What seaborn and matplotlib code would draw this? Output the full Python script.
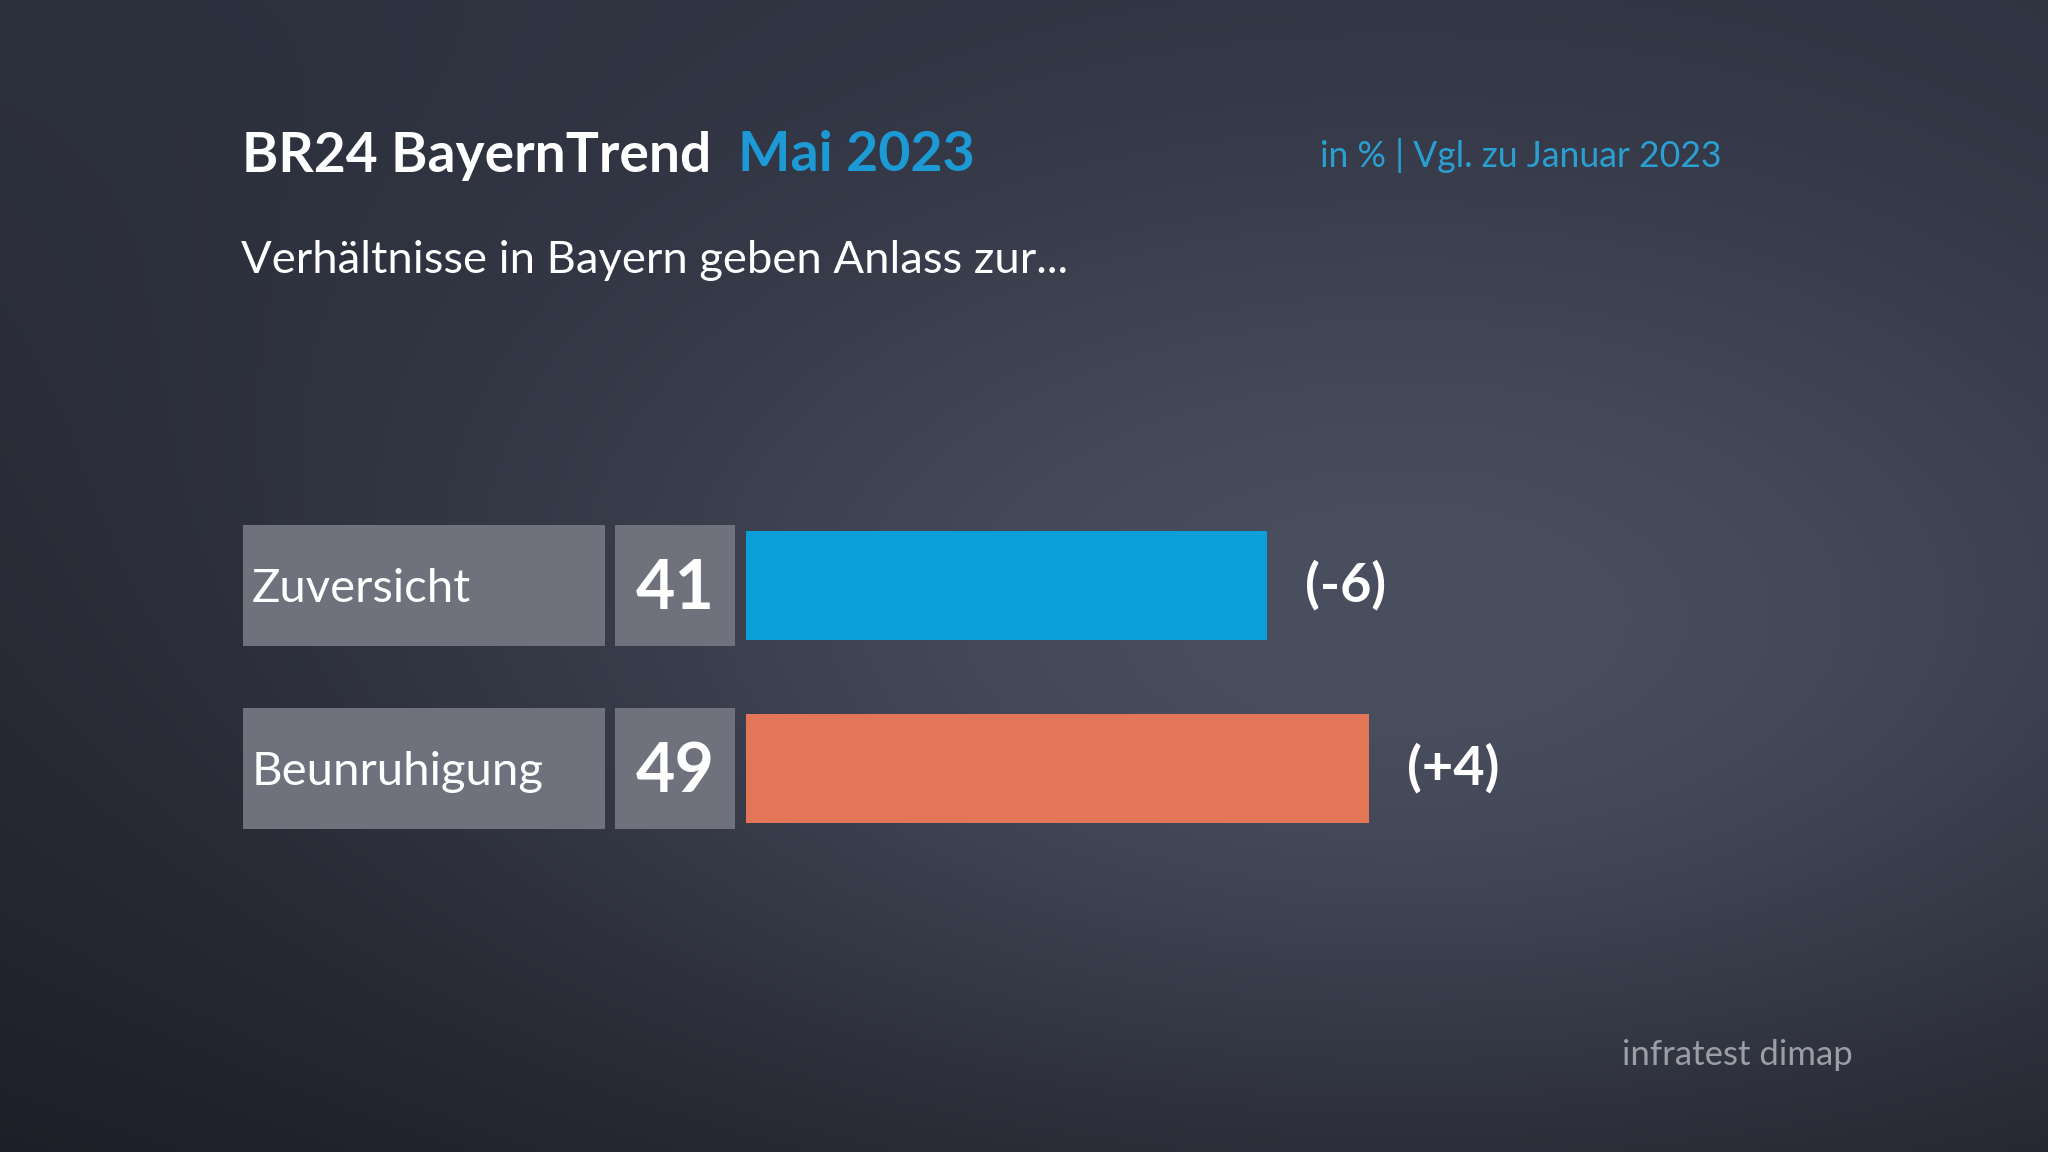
import numpy as np
import pandas as pd
import matplotlib.pyplot as plt
import seaborn as sns
from matplotlib import transforms
from matplotlib.patches import Rectangle

categories = ["Zuversicht", "Beunruhigung"]
values = [41, 49]
changes = ["(-6)", "(+4)"]
bar_colors = ["#0a9fd8", "#e37657"]

title = "BR24 BayernTrend"
title_date = "Mai 2023"
subtitle = "Verhältnisse in Bayern geben Anlass zur..."
note = "in % | Vgl. zu Januar 2023"
source = "infratest dimap"

W, H = 2048, 1152
BOX_COLOR = "#6f727c"
BLUE_TEXT = "#1c9ad6"

sns.set_theme(style="white")
plt.rcParams["font.family"] = ["Lato", "DejaVu Sans"]

fig = plt.figure(figsize=(W / 100, H / 100), dpi=100)

# dark background with a soft glow in the middle
bg = fig.add_axes([0, 0, 1, 1])
yy, xx = np.mgrid[0:H:4, 0:W:4]
top = np.array([0x2c, 0x2f, 0x3c]) / 255
bottom = np.array([0x1b, 0x1d, 0x25]) / 255
glow = np.array([0x4a, 0x4f, 0x60]) / 255
v = (yy / H)[..., None]
base = top * (1 - v) + bottom * v
f = np.exp(-((xx - 1400) / 1000) ** 2 - ((yy - 620) / 520) ** 2)[..., None]
img = base + (glow - base) * f
bg.imshow(img, aspect="auto", extent=[0, W, H, 0], interpolation="bilinear")
bg.set_xlim(0, W)
bg.set_ylim(H, 0)
bg.axis("off")

# bar axes: x=0 sits at pixel 746, 12.71 px per percent
ax = fig.add_axes([746 / W, 1 - 860 / H, 1271 / W, 366 / H])
df = pd.DataFrame({"category": categories, "value": values})
sns.barplot(data=df, x="value", y="category", hue="category", palette=bar_colors,
            width=0.6, saturation=1, linewidth=0, legend=False, ax=ax)
ax.set_xlim(0, 100)
ax.set_ylim(1.5, -0.5)
ax.axis("off")
ax.patch.set_alpha(0)

trans = transforms.blended_transform_factory(fig.transFigure, ax.transData)
for i, (cat, val, ch) in enumerate(zip(categories, values, changes)):
    ax.add_patch(Rectangle((243 / W, i - 0.328), (605 - 243) / W, 0.656, transform=trans,
                           facecolor=BOX_COLOR, edgecolor="none", clip_on=False, zorder=0))
    ax.add_patch(Rectangle((615 / W, i - 0.328), (735 - 615) / W, 0.656, transform=trans,
                           facecolor=BOX_COLOR, edgecolor="none", clip_on=False, zorder=0))
    ax.text(252 / W, i + 0.09, cat, transform=trans, fontsize=34, color="white",
            ha="left", va="baseline")
    ax.text(675 / W, i + 0.13, str(val), transform=trans, fontsize=49, fontweight="bold",
            color="white", ha="center", va="baseline")
    ax.text(val + 3, i, ch, fontsize=39, fontweight="bold", color="white",
            ha="left", va="center", clip_on=False)

fig.text(242 / W, 1 - 172 / H, title, fontsize=39.7, fontweight="bold", color="white", va="baseline")
fig.text(738 / W, 1 - 171 / H, title_date, fontsize=40, fontweight="bold", color=BLUE_TEXT, va="baseline")
fig.text(241 / W, 1 - 273 / H, subtitle, fontsize=32.7, color="white", va="baseline")
fig.text(1320 / W, 1 - 167 / H, note, fontsize=25.6, color="#2a9fd2", va="baseline")
fig.text(1622 / W, 1 - 1065 / H, source, fontsize=25, color="#9b9ea6", va="baseline")

fig.savefig("out.png", dpi=100)
